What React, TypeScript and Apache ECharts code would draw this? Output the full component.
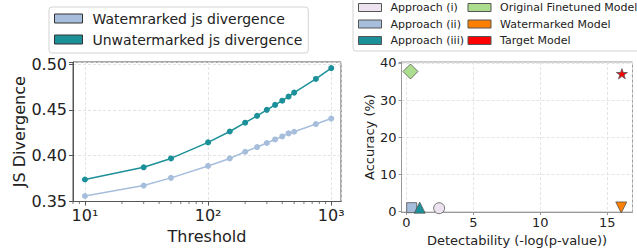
import React, { useEffect, useRef } from "react";
import * as echarts from "echarts";

const thresholds = [10, 30, 50, 100, 150, 200, 250, 300, 350, 400, 450, 500, 750, 1000];
const watermarkedJs = [0.356, 0.3674, 0.3758, 0.3888, 0.397, 0.4043, 0.4094, 0.4138, 0.4177, 0.421, 0.4243, 0.4261, 0.4345, 0.4405];
const unwatermarkedJs = [0.374, 0.3873, 0.397, 0.4145, 0.4264, 0.436, 0.4435, 0.45, 0.4554, 0.46, 0.4645, 0.4688, 0.4837, 0.4955];
const minorTicks = [8, 9, 20, 30, 40, 50, 60, 70, 80, 90, 200, 300, 400, 500, 600, 700, 800, 900];

const leftSeriesNames = ["Watemrarked js divergence", "Unwatermarked js divergence"];

const modelNames = [
  "Approach (i)",
  "Approach (ii)",
  "Approach (iii)",
  "Original Finetuned Model",
  "Watermarked Model",
  "Target Model",
];
const detectability = [2.44, 0.39, 0.99, 0.3, 16.04, 16.09];
const accuracy = [0.9, 1.05, 1.05, 37.7, 1.1, 37.1];

const FONT = "DejaVu Sans";
const STAR =
  "path://M50,0 L61.8,35.1 L100,35.1 L69.1,56.9 L80.9,91.9 L50,70.2 L19.1,91.9 L30.9,56.9 L0,35.1 L38.2,35.1 Z";

const modelStyles = [
  { symbol: "circle", size: 11, color: "#ece2f0", rotate: 0 },
  { symbol: "rect", size: 10, color: "#a6bddb", rotate: 0 },
  { symbol: "triangle", size: 11, color: "#1c9099", rotate: 0 },
  { symbol: "diamond", size: 15, color: "#addd8e", rotate: 0 },
  { symbol: "triangle", size: 11, color: "#ff7f00", rotate: 180 },
  { symbol: STAR, size: 11, color: "#ff0000", rotate: 0 },
];

const sup: Record<string, string> = { "0": "⁰", "1": "¹", "2": "²", "3": "³", "4": "⁴" };

export default function App() {
  const ref = useRef<HTMLDivElement>(null);
  useEffect(() => {
    if (!ref.current) return;
    const chart = echarts.init(ref.current, null, { renderer: "svg" });
    const spine = "#555";
    const gridLine = { show: true, lineStyle: { color: "#dddddd", type: [3, 2] as any, width: 0.8 } };

    const option: any = {
      animation: false,
      textStyle: { fontFamily: FONT },
      legend: [
        {
          data: leftSeriesNames,
          orient: "vertical",
          left: 49,
          top: 7,
          icon: "rect",
          itemWidth: 28,
          itemHeight: 9,
          itemGap: 4,
          padding: [3, 6, 5, 5],
          borderColor: "#d3d3d3",
          borderWidth: 1,
          borderRadius: 3,
          backgroundColor: "rgba(255,255,255,0.8)",
          itemStyle: { borderColor: "#333", borderWidth: 1 },
          textStyle: { fontFamily: FONT, fontSize: 14, color: "#222", lineHeight: 17, padding: [0, 0, 0, 5] },
        },
        {
          data: modelNames,
          orient: "vertical",
          left: 353,
          top: -3,
          height: 55,
          icon: "rect",
          itemWidth: 23,
          itemHeight: 8,
          itemGap: 1.5,
          padding: [3, 6, 3, 5],
          borderColor: "#d3d3d3",
          borderWidth: 1,
          borderRadius: 3,
          backgroundColor: "rgba(255,255,255,0.8)",
          itemStyle: { borderColor: "#555", borderWidth: 1 },
          textStyle: { fontFamily: FONT, fontSize: 11, color: "#222", lineHeight: 15, padding: [0, 2, 0, 4] },
        },
      ],
      grid: [
        { left: 73, top: 62, width: 268, height: 139.5, show: true, borderColor: spine, borderWidth: 1, containLabel: false },
        { left: 401.5, top: 62, width: 231, height: 150.5, show: true, borderColor: "#999", borderWidth: 1, containLabel: false },
      ],
      xAxis: [
        {
          type: "log",
          logBase: 10,
          gridIndex: 0,
          min: 8,
          max: 1200,
          axisLine: { show: true, lineStyle: { color: spine } },
          axisTick: { show: true, inside: false, length: 4, lineStyle: { color: spine } },
          splitLine: gridLine,
          axisLabel: {
            fontFamily: FONT,
            fontSize: 16,
            color: "#222",
            margin: 6,
            showMinLabel: false,
            showMaxLabel: false,
            formatter: (v: number) => {
              const e = Math.round(Math.log10(v));
              if (Math.abs(Math.log10(v) - e) > 1e-6) return "";
              return "10" + String(e).split("").map((c) => sup[c] || c).join("");
            },
          },
          name: "Threshold",
          nameLocation: "middle",
          nameGap: 21,
          nameTextStyle: { fontFamily: FONT, fontSize: 16, color: "#222" },
        },
        {
          type: "value",
          gridIndex: 1,
          min: -0.37,
          max: 16.88,
          minInterval: 5,
          maxInterval: 5,
          axisLine: { show: true, onZero: false, lineStyle: { color: "#999" } },
          axisTick: { show: true, length: 3, lineStyle: { color: "#999" } },
          splitLine: gridLine,
          axisLabel: {
            fontFamily: FONT,
            fontSize: 13,
            color: "#222",
            margin: 4,
            showMinLabel: false,
            showMaxLabel: false,
            formatter: (v: number) => (Math.abs(v % 5) < 1e-6 ? String(v) : ""),
          },
          name: "Detectability (-log(p-value))",
          nameLocation: "middle",
          nameGap: 15,
          nameTextStyle: { fontFamily: FONT, fontSize: 13, color: "#222" },
        },
      ],
      yAxis: [
        {
          type: "value",
          gridIndex: 0,
          min: 0.35,
          max: 0.5022,
          interval: 0.05,
          axisLine: { show: true, lineStyle: { color: spine } },
          axisTick: { show: true, length: 4, lineStyle: { color: spine } },
          splitLine: gridLine,
          axisLabel: {
            fontFamily: FONT,
            fontSize: 16,
            color: "#222",
            margin: 6,
            formatter: (v: number) => (Math.abs(v * 20 - Math.round(v * 20)) < 1e-6 ? v.toFixed(2) : ""),
          },
          name: "JS Divergence",
          nameLocation: "middle",
          nameRotate: 90,
          nameGap: 40,
          nameTextStyle: { fontFamily: FONT, fontSize: 16, color: "#222" },
        },
        {
          type: "value",
          gridIndex: 1,
          min: -0.15,
          max: 40.25,
          minInterval: 10,
          maxInterval: 10,
          axisLine: { show: true, onZero: false, lineStyle: { color: "#999" } },
          axisTick: { show: true, length: 3, lineStyle: { color: "#999" } },
          splitLine: gridLine,
          axisLabel: {
            fontFamily: FONT,
            fontSize: 13,
            color: "#222",
            margin: 5,
            showMinLabel: false,
            formatter: (v: number) => (Math.abs(v % 10) < 1e-6 ? String(v) : ""),
          },
          name: "Accuracy (%)",
          nameLocation: "middle",
          nameRotate: 90,
          nameGap: 24,
          nameTextStyle: { fontFamily: FONT, fontSize: 13, color: "#222" },
        },
      ],
      series: [
        {
          name: leftSeriesNames[0],
          type: "line",
          xAxisIndex: 0,
          yAxisIndex: 0,
          data: thresholds.map((t, i) => [t, watermarkedJs[i]]),
          symbol: "circle",
          symbolSize: 6,
          showSymbol: true,
          color: "#a6bddb",
          lineStyle: { width: 1.5, color: "#a6bddb" },
          itemStyle: { color: "#a6bddb" },
        },
        {
          name: leftSeriesNames[1],
          type: "line",
          xAxisIndex: 0,
          yAxisIndex: 0,
          data: thresholds.map((t, i) => [t, unwatermarkedJs[i]]),
          symbol: "circle",
          symbolSize: 6,
          showSymbol: true,
          color: "#1c9099",
          lineStyle: { width: 1.5, color: "#1c9099" },
          itemStyle: { color: "#1c9099" },
        },
        {
          type: "custom",
          xAxisIndex: 0,
          yAxisIndex: 0,
          silent: true,
          clip: false,
          data: minorTicks.map((t) => [t]),
          encode: { x: 0 },
          renderItem: (_p: any, api: any) => {
            const pt = api.coord([api.value(0), 0.35]);
            return {
              type: "line",
              shape: { x1: pt[0], y1: pt[1], x2: pt[0], y2: pt[1] + 2.5 },
              style: { stroke: spine, lineWidth: 0.8 },
            };
          },
        },
        ...modelNames.map((name, i) => ({
          name,
          type: "scatter",
          xAxisIndex: 1,
          yAxisIndex: 1,
          data: [[detectability[i], accuracy[i]]],
          symbol: modelStyles[i].symbol,
          symbolSize: modelStyles[i].size,
          symbolRotate: modelStyles[i].rotate,
          symbolKeepAspect: true,
          color: modelStyles[i].color,
          itemStyle: { color: modelStyles[i].color, borderColor: "#555", borderWidth: 0.8, opacity: 1 },
          clip: false,
        })),
      ],
    };
    chart.setOption(option);
    return () => chart.dispose();
  }, []);
  return (
    <div
      ref={ref}
      style={{ position: "fixed", left: 0, top: 0, width: 637, height: 252, background: "#fff" }}
    />
  );
}
